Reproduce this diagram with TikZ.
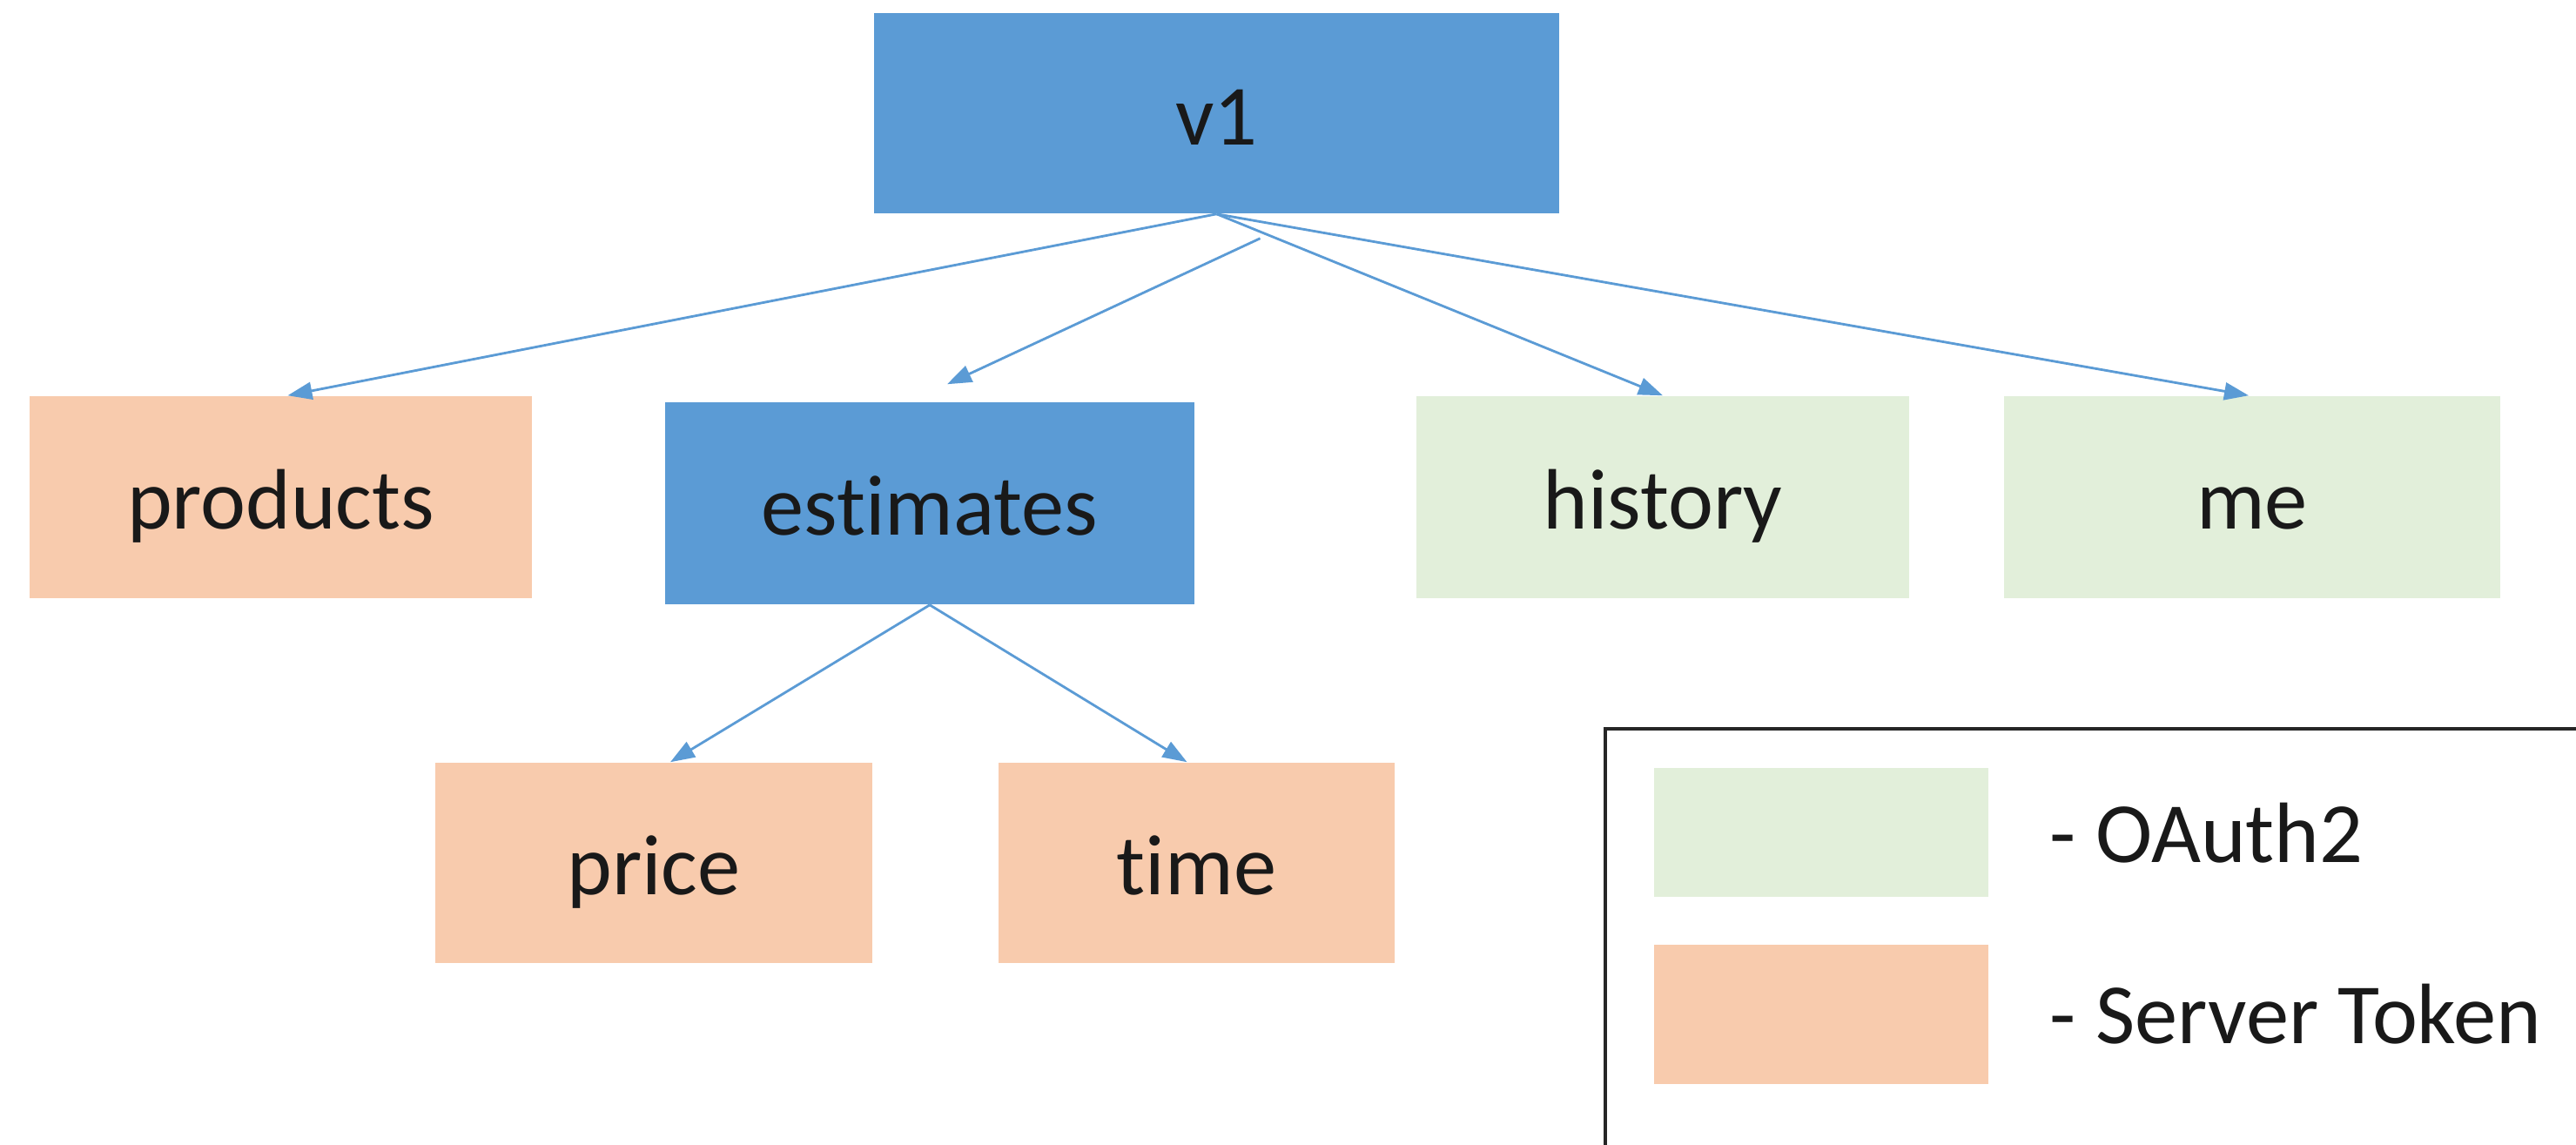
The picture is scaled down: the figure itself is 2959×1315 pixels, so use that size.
\documentclass[tikz,border=0pt]{standalone}
\usepackage{fontspec}
\setmainfont{Carlito}[Ligatures={NoCommon,NoContextual}]
\usetikzlibrary{arrows.meta}
\definecolor{vblue}{HTML}{5B9BD5}
\definecolor{vorange}{HTML}{F8CBAD}
\definecolor{vgreen}{HTML}{E2EFDA}
\definecolor{arrowblue}{HTML}{5B9BD5}
\begin{document}
\begin{tikzpicture}[x=0.01cm,y=-0.01cm,
  box/.style={inner sep=0pt, font=\fontsize{28}{34}\selectfont, text=black!90,
    text height=21pt, text depth=0pt},
  bluebox/.style={box, fill=vblue},
  orangebox/.style={box, fill=vorange},
  greenbox/.style={box, fill=vgreen},
  arr/.style={draw=arrowblue, line width=0.8pt, -{Triangle[length=0.28cm,width=0.2cm]}},
  legtext/.style={inner sep=0pt, anchor=base west, font=\fontsize{28}{34}\selectfont, text=black!90}]
\useasboundingbox (0,0) rectangle (2959,1315);
\fill[white] (0,0) rectangle (2959,1315);

\node[bluebox, minimum width=7.87cm, minimum height=2.30cm] (v1) at (1397.5,130) {v1};
\node[orangebox, minimum width=5.77cm, minimum height=2.32cm] (products) at (322.5,571) {products};
\node[bluebox, minimum width=6.08cm, minimum height=2.32cm] (est) at (1068,578) {estimates};
\node[greenbox, minimum width=5.66cm, minimum height=2.32cm] (history) at (1910,571) {history};
\node[greenbox, minimum width=5.70cm, minimum height=2.32cm] (me) at (2587,571) {me};
\node[orangebox, minimum width=5.02cm, minimum height=2.30cm] (price) at (751,991) {price};
\node[orangebox, minimum width=4.55cm, minimum height=2.30cm] (time) at (1374.5,991) {time};

\draw[arr] (v1.south) -- ([xshift=0.08cm]products.north);
\draw[arr] ([shift={(50,28)}]v1.south) -- ([shift={(20,-20)}]est.north);
\draw[arr] (v1.south) -- (history.north);
\draw[arr] (v1.south) -- ([xshift=-0.04cm]me.north);
\draw[arr] (est.south) -- ([xshift=0.19cm]price.north);
\draw[arr] (est.south) -- ([xshift=-0.11cm]time.north);

\begin{scope}
\clip (0,0) rectangle (2959,1315);
\node[draw=black!85, line width=1pt, fill=white, inner sep=0pt, anchor=north west,
  minimum width=11.4cm, minimum height=5.0cm] (legend) at (1842,835) {};
\end{scope}
\node[greenbox, minimum width=3.84cm, minimum height=1.48cm] (lgreen) at (2092,956) {};
\node[orangebox, minimum width=3.84cm, minimum height=1.60cm] (lorange) at (2092,1165) {};
\node[legtext] (loauth) at (2354,990) {- OAuth2};
\node[legtext] (lserver) at (2354,1198) {- Server Token};
\end{tikzpicture}
\end{document}
